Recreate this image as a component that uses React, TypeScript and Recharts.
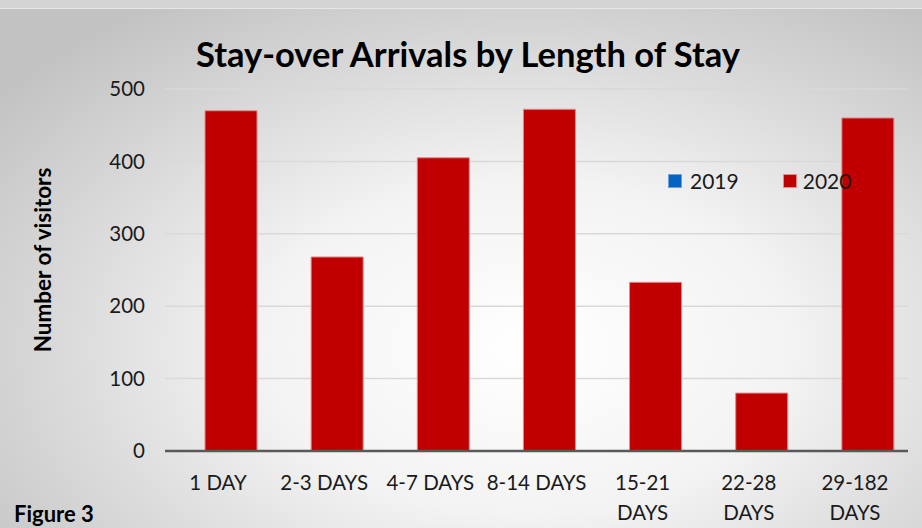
import React from 'react';
import { BarChart, Bar, XAxis, YAxis, CartesianGrid } from 'recharts';

const categories = ['1 DAY', '2-3 DAYS', '4-7 DAYS', '8-14 DAYS', '15-21 DAYS', '22-28 DAYS', '29-182 DAYS'];
const tickLines = [['1 DAY'], ['2-3 DAYS'], ['4-7 DAYS'], ['8-14 DAYS'], ['15-21', 'DAYS'], ['22-28', 'DAYS'], ['29-182', 'DAYS']];
const values2019 = [0, 0, 0, 0, 0, 0, 0];
const values2020 = [470, 268, 405, 472, 233, 80, 460];
const yTicks = [0, 100, 200, 300, 400, 500];

const FONT = 'Lato, "Open Sans", sans-serif';

const data = categories.map((c, i) => ({ name: c, y2019: values2019[i], y2020: values2020[i] }));

const XTick = (props: any) => {
  const { x, y, index } = props;
  const lines = tickLines[index] || [];
  return (
    <g transform={`translate(${x},${y})`}>
      {lines.map((l, i) => (
        <text key={i} x={0} y={i * 30} dy={31} textAnchor="middle" fill="#1a1a1a" fontSize={20.5} fontFamily={FONT}>
          {l}
        </text>
      ))}
    </g>
  );
};

const LegendBox = () => (
  <div style={{ position: 'absolute', left: 668, top: 168, display: 'flex', fontFamily: FONT, fontSize: 21, color: '#1a1a1a', alignItems: 'center' }}>
    <span style={{ width: 12, height: 12, background: '#0563C1', border: '1px solid #6fa0d8', display: 'inline-block', marginRight: 8 }} />
    <span style={{ marginRight: 44 }}>2019</span>
    <span style={{ width: 12, height: 12, background: '#C00000', border: '1px solid #e38a8a', display: 'inline-block', marginRight: 6 }} />
    <span>2020</span>
  </div>
);

const App: React.FC = () => {
  return (
    <div style={{ position: 'absolute', left: 0, top: 0, width: 922, height: 528, background: '#d4d4d4', overflow: 'hidden' }}>
      <div
        style={{
          position: 'absolute', left: 0, top: 8, width: 922, height: 520,
          borderTop: '1px solid #e6e6e6',
          background: 'radial-gradient(ellipse 72% 80% at 57% 65%, #ffffff 0%, #f3f3f3 40%, #d6d6d6 75%, #c2c2c2 100%)',
        }}
      />
      <div style={{ position: 'absolute', left: 0, top: 33, width: 936, textAlign: 'center', fontFamily: FONT, fontWeight: 700, fontSize: 34.5, color: '#000' }}>
        Stay-over Arrivals by Length of Stay
      </div>
      <div style={{ position: 'absolute', left: 14, top: 500, fontFamily: FONT, fontWeight: 700, fontSize: 22, color: '#000' }}>
        Figure 3
      </div>
      <div style={{ position: 'absolute', left: 0, top: 0 }}>
        <BarChart width={922} height={528} data={data} margin={{ top: 89, right: 14, bottom: 0, left: 0 }} barSize={52} barGap={-26}>
          <CartesianGrid vertical={false} stroke="#d9d9d9" strokeWidth={1.5} />
          <XAxis dataKey="name" axisLine={{ stroke: '#595959', strokeWidth: 2.5 }} tickLine={false} tick={<XTick />} interval={0} height={77} />
          <YAxis
            domain={[0, 500]}
            ticks={yTicks}
            width={165}
            axisLine={false}
            tickLine={false}
            tickSize={0}
            tickMargin={20}
            tick={{ fill: '#1a1a1a', fontSize: 20.5, fontFamily: FONT }}
            label={{ value: 'Number of visitors', angle: -90, position: 'insideLeft', dx: 38, dy: -10, style: { textAnchor: 'middle', fontFamily: FONT, fontWeight: 700, fontSize: 22.5, fill: '#000' } }}
          />
          <Bar dataKey="y2019" name="2019" fill="#0563C1" isAnimationActive={false} />
          <Bar dataKey="y2020" name="2020" fill="#C00000" stroke="#e08a8a" strokeWidth={1} isAnimationActive={false} />
        </BarChart>
      </div>
      <LegendBox />
    </div>
  );
};

export default App;
